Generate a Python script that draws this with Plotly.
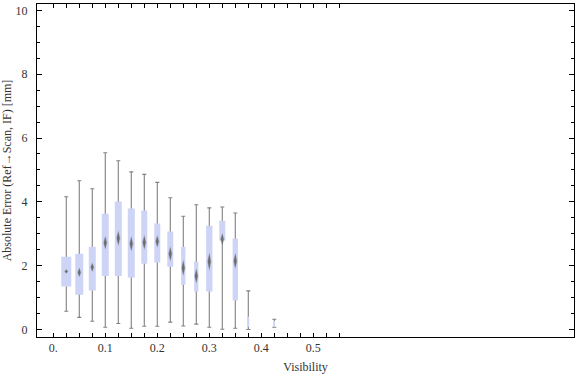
import plotly.graph_objects as go

# ---- data ----
visibility = [0.025, 0.05, 0.075, 0.1, 0.125, 0.15, 0.175, 0.2, 0.225,
              0.25, 0.275, 0.3, 0.325, 0.35, 0.375, 0.425]
upper_whisker = [4.16, 4.66, 4.41, 5.54, 5.29, 4.94, 4.86, 4.61, 4.13,
                 3.55, 3.91, 3.81, 3.84, 3.65, 1.21, 0.32]
q3 = [2.28, 2.37, 2.59, 3.63, 4.01, 3.79, 3.73, 3.32, 3.07,
      2.59, 2.12, 3.25, 3.41, 2.85, 0.40, 0.27]
median = [1.82, 1.79, 1.95, 2.72, 2.86, 2.69, 2.73, 2.76, 2.37,
          1.93, 1.68, 2.13, 2.83, 2.15, 0.25, 0.17]
q1 = [1.35, 1.09, 1.22, 1.68, 1.68, 1.63, 2.06, 2.10, 1.97,
      1.40, 1.19, 1.19, 2.79, 0.91, 0.09, 0.08]
lower_whisker = [0.57, 0.38, 0.26, 0.07, 0.19, 0.04, 0.10, 0.10, 0.23,
                 0.11, 0.17, 0.07, 0.01, 0.04, 0.00, 0.07]
median_ci = [0.07, 0.15, 0.15, 0.22, 0.25, 0.25, 0.24, 0.20, 0.24,
             0.26, 0.24, 0.29, 0.20, 0.26, 0.0, 0.0]
rel_width = [10, 8, 7, 7, 7, 7, 6, 6, 6, 4.3, 4.3, 6.3, 6, 5.3, 2, 1.5]

x_tick_vals = [0.0, 0.1, 0.2, 0.3, 0.4, 0.5]
x_tick_text = ["0.", "0.1", "0.2", "0.3", "0.4", "0.5"]
y_tick_vals = [0, 2, 4, 6, 8, 10]

# ---- styling ----
X_RANGE = [-0.0313, 1.0013]
Y_RANGE = [-0.235, 10.2]
PX_PER_X = 520.0           # pixels per x unit
BOX_FILL = "rgb(205,212,246)"
WHISKER = "rgb(128,128,128)"
FONT = "Liberation Serif"
TXT = "#333333"
CAP_PX = 4.0

fig = go.Figure()

for i, xv in enumerate(visibility):
    # whisker line with caps: degenerate box sitting on the lower fence
    fig.add_trace(go.Box(
        x=[xv], q1=[lower_whisker[i]], median=[lower_whisker[i]],
        q3=[lower_whisker[i]],
        lowerfence=[lower_whisker[i]], upperfence=[upper_whisker[i]],
        width=CAP_PX / PX_PER_X, whiskerwidth=1,
        fillcolor="rgba(0,0,0,0)", line=dict(color=WHISKER, width=1.1),
        boxpoints=False, showlegend=False, hoverinfo="skip"))
    # the filled box covering the inter-quartile range
    fig.add_trace(go.Box(
        x=[xv], q1=[q1[i]], median=[median[i]], q3=[q3[i]],
        lowerfence=[q1[i]], upperfence=[q3[i]],
        width=rel_width[i] / PX_PER_X, whiskerwidth=0,
        fillcolor=BOX_FILL, line=dict(color=BOX_FILL, width=0),
        boxpoints=False, showlegend=False, hoverinfo="skip"))

# median notch diamonds (blurred look: soft outer + darker inner)
def diamonds(hw_px, scale):
    xs, ys = [], []
    for xv, m, h in zip(visibility, median, median_ci):
        if h <= 0:
            continue
        hw = hw_px / PX_PER_X
        hh = h * scale
        xs += [xv, xv + hw, xv, xv - hw, xv, None]
        ys += [m + hh, m, m - hh, m, m + hh, None]
    return xs, ys

for hw_px, sc, col in [(2.3, 1.05, "rgba(130,130,130,0.35)"),
                       (1.4, 0.85, "rgba(100,100,100,0.9)")]:
    xs, ys = diamonds(hw_px, sc)
    fig.add_trace(go.Scatter(x=xs, y=ys, mode="lines", fill="toself",
                             fillcolor=col, line=dict(width=0, color=col),
                             showlegend=False, hoverinfo="skip"))

x_minor = [round(k * 0.025, 3) for k in range(0, 23)]

fig.update_layout(
    width=576, height=377,
    margin=dict(l=37, r=2, t=4, b=40, pad=0, autoexpand=False),
    plot_bgcolor="white", paper_bgcolor="white",
    boxmode="overlay", showlegend=False,
    font=dict(family=FONT, size=12, color=TXT),
    xaxis=dict(
        range=X_RANGE, showgrid=False, zeroline=False, automargin=False,
        showline=True, linecolor="black", linewidth=1, mirror="ticks",
        ticks="inside", ticklen=4, tickcolor="black",
        tickmode="array", tickvals=x_tick_vals, ticktext=x_tick_text,
        minor=dict(tickmode="array", tickvals=x_minor, ticks="inside",
                   ticklen=4, tickcolor="black", showgrid=False),
        tickfont=dict(family=FONT, size=12, color=TXT),
        title=dict(text="Visibility", font=dict(family=FONT, size=12, color=TXT),
                   standoff=8),
    ),
    yaxis=dict(
        range=Y_RANGE, showgrid=False, zeroline=False, automargin=False,
        showline=True, linecolor="black", linewidth=1, mirror="ticks",
        ticks="inside", ticklen=5, tickcolor="black",
        tickmode="array", tickvals=y_tick_vals,
        minor=dict(dtick=0.5, ticks="inside", ticklen=3, tickcolor="black",
                   showgrid=False),
        tickfont=dict(family=FONT, size=12, color=TXT),
        ticklabelstandoff=6,
        title=dict(text="Absolute Error (Ref\u2192Scan, IF) [mm]",
                   font=dict(family=FONT, size=12, color=TXT), standoff=6),
    ),
)

fig.write_html("out.html",
               config={"displayModeBar": False},
               post_script="document.body.style.margin='0px';"
                           "document.body.style.overflow='hidden';")
